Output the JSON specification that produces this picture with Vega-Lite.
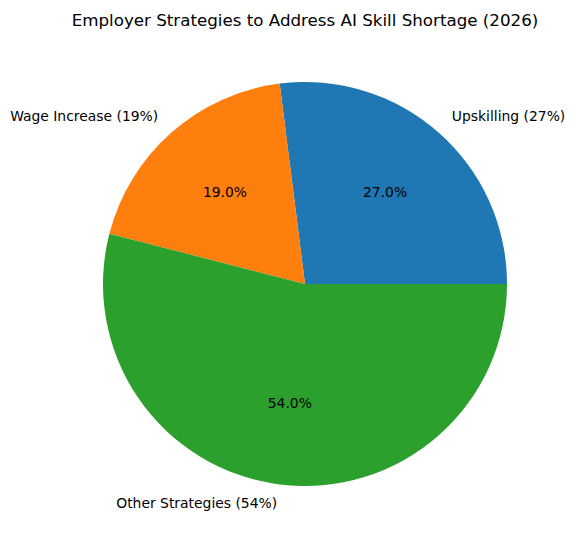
{
  "$schema": "https://vega.github.io/schema/vega-lite/v6.json",
  "width": 540,
  "height": 448,
  "autosize": "none",
  "padding": {"left": 35, "top": 60, "right": 0, "bottom": 39},
  "background": "white",
  "title": {
    "text": "Employer Strategies to Address AI Skill Shortage (2026)",
    "font": "DejaVu Sans",
    "fontSize": 16.7,
    "fontWeight": "normal",
    "color": "black",
    "anchor": "middle",
    "frame": "group",
    "baseline": "alphabetic",
    "offset": 17
  },
  "config": {"view": {"stroke": null}},
  "data": {
    "values": [
      {"strategy": "Upskilling", "label": "Upskilling (27%)", "pct": "27.0%", "share": 27, "rank": 1},
      {"strategy": "Wage Increase", "label": "Wage Increase (19%)", "pct": "19.0%", "share": 19, "rank": 2},
      {"strategy": "Other Strategies", "label": "Other Strategies (54%)", "pct": "54.0%", "share": 54, "rank": 3}
    ]
  },
  "encoding": {
    "theta": {
      "field": "share",
      "type": "quantitative",
      "stack": true,
      "scale": {"range": [1.5707963, -4.712389]}
    },
    "order": {"field": "rank", "type": "quantitative"}
  },
  "layer": [
    {
      "mark": {"type": "arc", "outerRadius": 202, "stroke": null},
      "encoding": {
        "color": {
          "field": "strategy",
          "type": "nominal",
          "scale": {
            "domain": ["Upskilling", "Wage Increase", "Other Strategies"],
            "range": ["#1f77b4", "#ff7f0e", "#2ca02c"]
          },
          "legend": null
        }
      }
    },
    {
      "mark": {"type": "text", "radius": 121, "font": "DejaVu Sans", "fontSize": 13.9, "color": "black", "align": "center", "baseline": "middle"},
      "encoding": {"text": {"field": "pct"}}
    },
    {
      "mark": {"type": "text", "radius": 222, "font": "DejaVu Sans", "fontSize": 13.9, "color": "black", "align": "left", "baseline": "middle"},
      "encoding": {
        "text": {"condition": {"test": "datum.rank == 1", "field": "label"}, "value": ""}
      }
    },
    {
      "mark": {"type": "text", "radius": 222, "font": "DejaVu Sans", "fontSize": 13.9, "color": "black", "align": "right", "baseline": "middle"},
      "encoding": {
        "text": {"condition": {"test": "datum.rank != 1", "field": "label"}, "value": ""}
      }
    }
  ]
}
